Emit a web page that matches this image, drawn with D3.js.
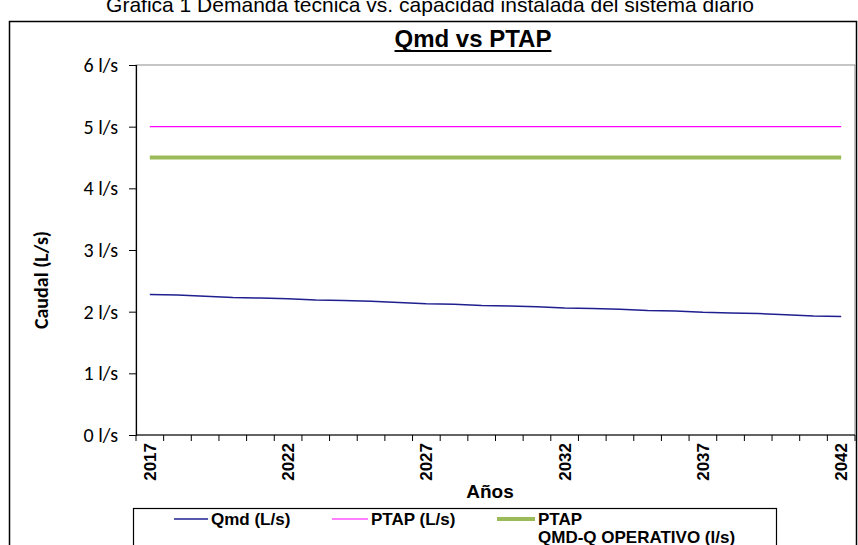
<!DOCTYPE html>
<html><head><meta charset="utf-8">
<script src="https://cdn.jsdelivr.net/npm/d3@7/dist/d3.min.js"></script>
<style>body{margin:0;background:#fff}svg{display:block}</style>
</head><body>
<svg id="c" width="858" height="545"></svg>
<script>
const years = d3.range(2017, 2043);
const labelYears = [2017, 2022, 2027, 2032, 2037, 2042];
const qmd = [2.28,2.27,2.25,2.23,2.22,2.21,2.19,2.18,2.17,2.15,2.13,2.12,2.10,2.09,2.08,2.06,2.05,2.04,2.02,2.01,1.99,1.98,1.97,1.95,1.93,1.92];
const ptap = years.map(() => 5);
const ptapOper = years.map(() => 4.5);
const yTicks = [0,1,2,3,4,5,6];
const seriesNames = ["Qmd (L/s)", "PTAP (L/s)", ["PTAP", "QMD-Q OPERATIVO (l/s)"]];

const svg = d3.select("#c");
const arial = "'Liberation Sans',Arial,sans-serif";
const calibri = "Carlito,Calibri,Lato,'Open Sans',sans-serif";

// page caption (cut at top)
svg.append("text").attr("x", 430).attr("y", 12).attr("text-anchor","middle")
  .attr("font-family",arial).attr("font-size",21)
  .text("Gráfica 1 Demanda técnica vs. capacidad instalada del sistema diario");

// outer frame
svg.append("rect").attr("x",9.5).attr("y",21.5).attr("width",847).attr("height",540)
  .attr("fill","none").attr("stroke","#000").attr("stroke-width",1.5);

const L = 136, R = 855, T = 65, B = 435;
const x = d3.scaleBand().domain(years).range([L, R]);
const y = d3.scaleLinear().domain([0, 6]).range([B, T]);

// plot border
svg.append("rect").attr("x",L).attr("y",T).attr("width",R-L).attr("height",B-T)
  .attr("fill","none").attr("stroke","#8c8c8c").attr("stroke-width",1);

// y axis
const ya = svg.append("g").attr("transform",`translate(${L},0)`)
  .call(d3.axisLeft(y).tickValues(yTicks).tickSize(7).tickPadding(11).tickFormat(d => d + " l/s"));
ya.select(".domain").attr("stroke","#000").attr("stroke-width",1.2);
ya.selectAll(".tick line").attr("stroke","#000");
ya.selectAll("text").attr("font-family",calibri).attr("font-size",20).attr("fill","#000");

// x axis (ticks between categories)
const xa = svg.append("g");
xa.append("line").attr("x1",L).attr("x2",R).attr("y1",B).attr("y2",B).attr("stroke","#000").attr("stroke-width",1.2);
xa.selectAll("line.tk").data(years.concat([null])).enter().append("line").attr("class","tk")
  .attr("x1", d => d === null ? R : x(d)).attr("x2", d => d === null ? R : x(d))
  .attr("y1",B).attr("y2",B+6).attr("stroke","#000");
xa.selectAll("text").data(labelYears).enter().append("text")
  .attr("transform", d => `translate(${x(d)+x.bandwidth()/2+6},${B+8}) rotate(-90)`)
  .attr("text-anchor","end").attr("font-family",arial).attr("font-weight","bold").attr("font-size",17)
  .text(d => d);

// titles
const title = svg.append("text").attr("x",473).attr("y",47).attr("text-anchor","middle")
  .attr("font-family",arial).attr("font-weight","bold").attr("font-size",24).text("Qmd vs PTAP");
const tb = title.node().getBBox();
svg.append("line").attr("x1",tb.x).attr("x2",tb.x+tb.width).attr("y1",51).attr("y2",51)
  .attr("stroke","#000").attr("stroke-width",2);

svg.append("text").attr("transform","translate(48,280) rotate(-90)").attr("text-anchor","middle")
  .attr("font-family",calibri).attr("font-weight","bold").attr("font-size",20).text("Caudal (L/s)");
svg.append("text").attr("x",490).attr("y",498).attr("text-anchor","middle")
  .attr("font-family",arial).attr("font-weight","bold").attr("font-size",19).text("Años");

// lines
const line = d3.line().x((d,i) => x(years[i]) + x.bandwidth()/2).y(d => y(d));
svg.append("path").datum(ptapOper).attr("d",line).attr("fill","none").attr("stroke","#9bbb59").attr("stroke-width",4);
svg.append("path").datum(ptap).attr("d",line).attr("fill","none").attr("stroke","#ff00ff").attr("stroke-width",1.2);
svg.append("path").datum(qmd).attr("d",line).attr("fill","none").attr("stroke","#1f1f8f").attr("stroke-width",1.5);

// legend
svg.append("rect").attr("x",133.5).attr("y",508.5).attr("width",643).attr("height",60)
  .attr("fill","#fff").attr("stroke","#000").attr("stroke-width",1.2);
const leg = [
  {x1:174, x2:208, color:"#1f1f8f", w:1.5, name:seriesNames[0]},
  {x1:332, x2:368, color:"#ff00ff", w:1.2, name:seriesNames[1]},
  {x1:497, x2:535, color:"#9bbb59", w:4, name:seriesNames[2]}
];
leg.forEach(d => {
  svg.append("line").attr("x1",d.x1).attr("x2",d.x2).attr("y1",519).attr("y2",519)
    .attr("stroke",d.color).attr("stroke-width",d.w);
  const t = svg.append("text").attr("x",d.x2+3).attr("y",525).attr("font-family",arial)
    .attr("font-weight","bold").attr("font-size",17);
  const names = Array.isArray(d.name) ? d.name : [d.name];
  names.forEach((n,i) => t.append("tspan").attr("x",d.x2+3).attr("dy", i ? 18 : 0).text(n));
});
</script>
</body></html>
